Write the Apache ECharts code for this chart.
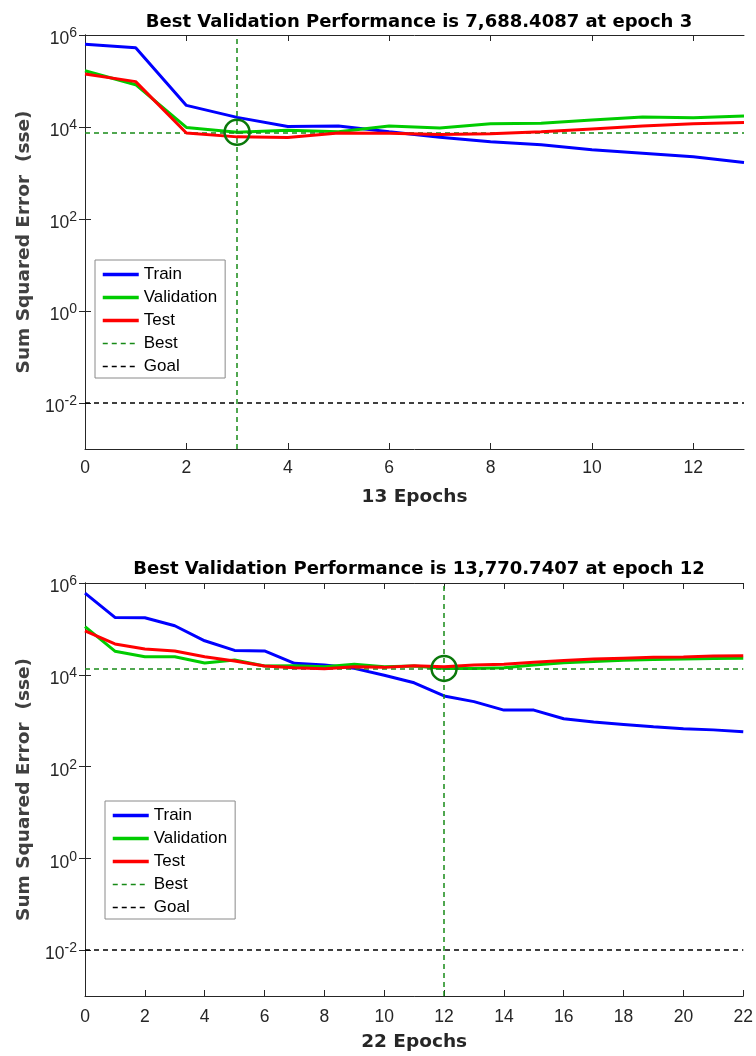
<!DOCTYPE html>
<html><head><meta charset="utf-8">
<script src="https://cdn.jsdelivr.net/npm/echarts@6/dist/echarts.min.js"></script>
<style>html,body{margin:0;padding:0;background:#fff}#c{width:756px;height:1056px}</style>
</head><body><div id="c"></div>
<script>
// ---- Data (top chart: 13 epochs) ----
const epochsA = [0,1,2,3,4,5,6,7,8,9,10,11,12,13];
const trainA = [630000,530000,29500,16200,10300,10500,7900,6000,4800,4100,3200,2700,2250,1700];
const validA = [167000,83000,9800,7688.4087,8500,7900,10500,9500,11700,12000,14200,16500,15800,17400];
const testA  = [142000,97000,7400,6100,5900,7400,7300,6900,7100,7900,9100,10500,11800,12600];
const bestA = {epoch:3, value:7688.4087};
// ---- Data (bottom chart: 22 epochs) ----
const epochsB = [0,1,2,3,4,5,6,7,8,9,10,11,12,13,14,15,16,17,18,19,20,21,22];
const trainB = [600000,178000,175000,117000,55000,34000,33000,17800,16300,13800,9800,6700,3450,2600,1700,1700,1100,930,830,740,670,630,570];
const validB = [112000,32700,24700,24700,18000,21000,15500,15700,15000,17000,15000,15500,13770.7407,13700,14300,16300,18300,19500,20800,21500,22000,22500,23000];
const testB  = [91000,47000,36500,33000,24700,20000,15500,14300,13500,15000,14500,15800,15000,16300,17000,18700,20500,22000,23000,24000,24500,25500,26000];
const bestB = {epoch:12, value:13770.7407};
const goal = 0.01;
const yTicks = [0.01, 1, 100, 10000, 1000000];
const xTicksA = [0,2,4,6,8,10,12];
const xTicksB = [0,2,4,6,8,10,12,14,16,18,20,22];
const titles = ['Best Validation Performance is 7,688.4087 at epoch 3','Best Validation Performance is 13,770.7407 at epoch 12'];
const xNames = ['13 Epochs','22 Epochs'];
const yName = 'Sum Squared Error  (sse)';
const legendNames = ['Train','Validation','Test','Best','Goal'];

const FONT = '"Liberation Sans", Arial, sans-serif';
const BFONT = '"DejaVu Sans", "Liberation Sans", sans-serif';
const AX = '#262626';
const C_TRAIN = '#0000ff', C_VALID = '#00cc00', C_TEST = '#ff0000', C_BEST = '#178a17', C_GOAL = '#000000', C_CIRCLE = '#0a780a';

function pairs(xs, ys){ return xs.map((x,i)=>[x, ys[i]]); }
function logLabel(v){ const e = Math.round(Math.log10(v)); return '{b|10}{s|' + e + '}'; }

const grids = [
  {left:85, top:35, width:659, height:414},
  {left:85, top:583, width:659, height:413}
];

function xAxes(gi, max, ticks, name, nameGap, margin){
  return [
    {type:'value', gridIndex:gi, min:0, max:max, name:name, nameLocation:'middle', nameGap:nameGap,
     nameTextStyle:{fontFamily:BFONT, fontWeight:'bold', fontSize:18.5, color:AX},
     axisLine:{lineStyle:{color:AX, width:1}}, splitLine:{show:false},
     axisTick:{inside:true, length:6, lineStyle:{color:AX}, customValues:ticks},
     axisLabel:{fontFamily:FONT, fontSize:17.5, color:AX, margin:margin, customValues:ticks}},
    {type:'value', gridIndex:gi, position:'top', min:0, max:max,
     axisLine:{lineStyle:{color:AX, width:1}}, splitLine:{show:false},
     axisTick:{inside:true, length:6, lineStyle:{color:AX}, customValues:ticks},
     axisLabel:{show:false}}
  ];
}
function yAxes(gi){
  return [
    {type:'log', logBase:10, gridIndex:gi, min:0.001, max:1000000, name:yName, nameLocation:'middle', nameGap:51,
     nameTextStyle:{fontFamily:BFONT, fontWeight:'bold', fontSize:18.5, color:'#404040'},
     axisLine:{show:true, lineStyle:{color:AX, width:1}}, splitLine:{show:false},
     axisTick:{inside:true, length:6, lineStyle:{color:AX}, customValues:yTicks},
     axisLabel:{fontFamily:FONT, color:AX, margin:8, customValues:yTicks, formatter:logLabel,
       rich:{
         b:{fontFamily:FONT, fontSize:17.5, color:AX, lineHeight:27, verticalAlign:'bottom'},
         s:{fontFamily:FONT, fontSize:14, color:AX, lineHeight:13, verticalAlign:'top', padding:[5,0,0,0]}
       }}},
    {type:'log', logBase:10, gridIndex:gi, position:'right', min:0.001, max:1000000,
     axisLine:{show:true, lineStyle:{color:AX, width:1}}, splitLine:{show:false},
     axisTick:{inside:true, length:6, lineStyle:{color:AX}, customValues:yTicks},
     axisLabel:{show:false}}
  ];
}

function seriesFor(gi, xs, tr, va, te, best){
  const xi = gi*2, yi = gi*2;
  const base = {type:'line', xAxisIndex:xi, yAxisIndex:yi, showSymbol:false, symbol:'none', animation:false, silent:true};
  const ml = (color, data) => ({silent:true, symbol:['none','none'], label:{show:false}, animation:false,
        emphasis:{disabled:true}, lineStyle:{color:color, width:1.5, type:[5,4]}, data:data});
  return [
    Object.assign({}, base, {name:'Train', data:pairs(xs,tr), lineStyle:{color:C_TRAIN, width:3}, itemStyle:{color:C_TRAIN}, z:3}),
    Object.assign({}, base, {name:'Validation', data:pairs(xs,va), lineStyle:{color:C_VALID, width:3}, itemStyle:{color:C_VALID}, z:4}),
    Object.assign({}, base, {name:'Test', data:pairs(xs,te), lineStyle:{color:C_TEST, width:3}, itemStyle:{color:C_TEST}, z:5}),
    Object.assign({}, base, {name:'Best', data:[], lineStyle:{color:C_BEST, width:1.5, type:[5,4]}, itemStyle:{color:C_BEST}, z:6,
      markLine:ml(C_BEST, [{xAxis:best.epoch}, {yAxis:best.value}])}),
    Object.assign({}, base, {name:'Goal', data:[], lineStyle:{color:C_GOAL, width:1.5, type:[5,4]}, itemStyle:{color:C_GOAL}, z:6,
      markLine:ml(C_GOAL, [{yAxis:goal}])}),
    {type:'scatter', xAxisIndex:xi, yAxisIndex:yi, data:[[best.epoch, best.value]], symbol:'circle', symbolSize:25,
      itemStyle:{color:'rgba(0,0,0,0)', borderColor:C_CIRCLE, borderWidth:2.5, opacity:1}, z:10, silent:true, animation:false}
  ];
}

function legendFor(top, left){
  const styles = {Train:{width:3.5}, Validation:{width:3.5}, Test:{width:3.5},
                  Best:{width:1.5, type:[5,4]}, Goal:{width:1.5, type:[5,4]}};
  return {orient:'vertical', left:left, top:top, itemWidth:36, itemHeight:14, itemGap:6, itemTextGap:5,
    padding:[6,8,3,6], backgroundColor:'#fff', borderColor:'#8a8a8a', borderWidth:1, borderRadius:0,
    textStyle:{fontFamily:FONT, fontSize:17, color:'#000'},
    itemStyle:{opacity:0, borderWidth:0},
    data:legendNames.map(n => ({name:n, lineStyle:styles[n]})), selectedMode:false};
}

const option = {
  animation:false,
  backgroundColor:'#fff',
  title:[
    {text:titles[0], left:414, top:8, textAlign:'center', textStyle:{fontFamily:BFONT, fontWeight:'bold', fontSize:18, color:'#000'}},
    {text:titles[1], left:414, top:555, textAlign:'center', textStyle:{fontFamily:BFONT, fontWeight:'bold', fontSize:18, color:'#000'}}
  ],
  grid:grids,
  xAxis:[].concat(xAxes(0, 13, xTicksA, xNames[0], 39, 10), xAxes(1, 22, xTicksB, xNames[1], 37, 12)),
  yAxis:[].concat(yAxes(0), yAxes(1)),
  legend:[legendFor(260, 95), legendFor(801, 105)],
  series:[].concat(seriesFor(0, epochsA, trainA, validA, testA, bestA), seriesFor(1, epochsB, trainB, validB, testB, bestB))
};
const chart = echarts.init(document.getElementById('c'), null, {renderer:'canvas'});
chart.setOption(option);
</script></body></html>
